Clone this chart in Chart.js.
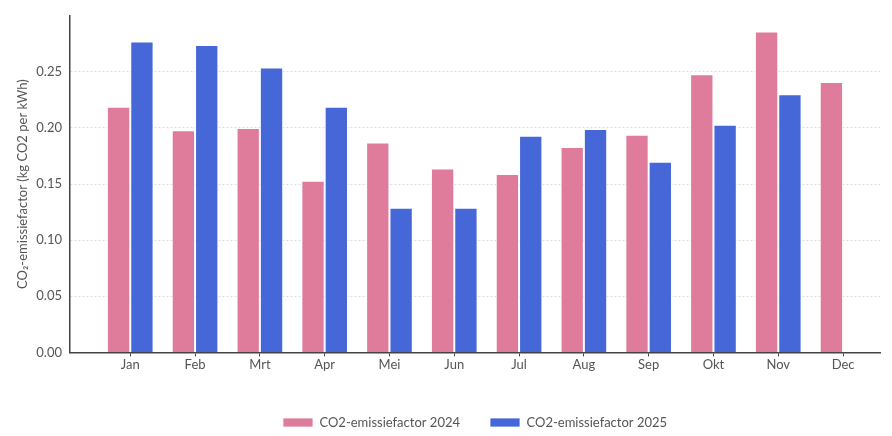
<!DOCTYPE html>
<html>
<head>
<meta charset="utf-8">
<script src="https://cdn.jsdelivr.net/npm/chart.js@4"></script>
<style>
  html,body{margin:0;padding:0;background:#fff;}
  #wrap{width:892px;height:436px;}
</style>
</head>
<body>
<div id="wrap"><canvas id="co2-canvas"></canvas></div>
<script>
const months=['Jan','Feb','Mrt','Apr','Mei','Jun','Jul','Aug','Sep','Okt','Nov','Dec']
const factor2024=[0.219,0.198,0.200,0.153,0.187,0.164,0.159,0.183,0.194,0.248,0.286,0.241]
const factor2025=[0.277,0.274,0.254,0.219,0.129,0.129,0.193,0.199,0.170,0.203,0.230,null]
const yTicks=[0,0.05,0.10,0.15,0.20,0.25]

// bars on a linear x axis so the left gap next to the y axis can be kept
const toPoints=arr=>arr.map((v,i)=>({x:i,y:v}))

const txt='#555'
const font="Lato, 'Open Sans', sans-serif"
Chart.defaults.font.family=font
Chart.defaults.color=txt

new Chart(document.getElementById('co2-canvas'),{
  type:'bar',
  data:{
    datasets:[
      {label:'CO2-emissiefactor 2024',data:toPoints(factor2024),backgroundColor:'#e07c9b',borderColor:'rgba(255,255,255,0.75)',borderWidth:1},
      {label:'CO2-emissiefactor 2025',data:toPoints(factor2025),backgroundColor:'#4667d8',borderColor:'rgba(255,255,255,0.75)',borderWidth:1}
    ]
  },
  options:{
    responsive:true,
    maintainAspectRatio:false,
    animation:false,
    categoryPercentage:0.72,
    barPercentage:1,
    layout:{padding:{top:14,right:12,left:15,bottom:-3}},
    plugins:{
      legend:{
        position:'bottom',
        fullSize:false,
        labels:{boxWidth:30,boxHeight:9,padding:30,font:{size:13},color:txt}
      },
      tooltip:{enabled:false}
    },
    scales:{
      x:{
        type:'linear',
        offset:false,
        min:-0.93,
        max:11.57,
        afterBuildTicks:s=>{s.ticks=months.map((m,i)=>({value:i}))},
        afterFit:s=>{s.height=s.height+12},
        ticks:{callback:v=>months[v],font:{size:13},color:txt,padding:1,autoSkip:false,maxRotation:0},
        grid:{display:true,offset:false,drawOnChartArea:false,drawTicks:true,tickLength:4,color:'#444'},
        border:{display:true,color:'#444',width:1.5}
      },
      y:{
        min:0,
        max:0.3,
        afterBuildTicks:s=>{s.ticks=yTicks.map(v=>({value:v}))},
        afterFit:s=>{s.width=55},
        ticks:{callback:v=>v.toFixed(2),font:{size:13},color:txt,padding:8},
        grid:{color:'#dcdcdc',drawTicks:false},
        border:{display:true,color:'#444',width:1.5,dash:[2,2]},
        title:{display:true,text:'CO₂-emissiefactor (kg CO2 per kWh)',font:{size:13},color:txt,padding:{top:0,bottom:4}}
      }
    }
  }
})
</script>
</body>
</html>
